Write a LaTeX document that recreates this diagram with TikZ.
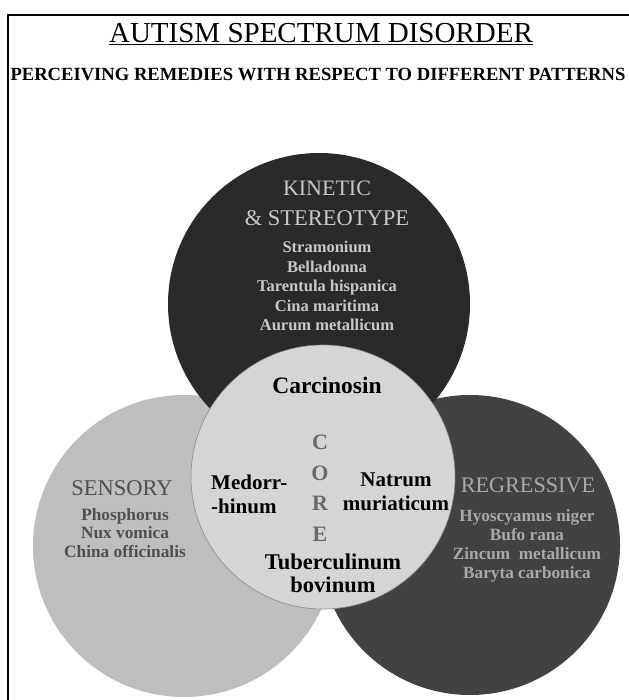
\documentclass[tikz,border=0pt]{standalone}
\usepackage{fontspec}
\setmainfont{Liberation Serif}
\usetikzlibrary{positioning}
\definecolor{kinfill}{HTML}{2A2A2A}
\definecolor{regfill}{HTML}{424242}
\definecolor{senfill}{HTML}{BEBEBE}
\definecolor{corefill}{HTML}{D5D5D5}
\definecolor{kintext}{HTML}{C8C8C8}
\definecolor{regtext}{HTML}{A8A8A8}
\definecolor{sentext}{HTML}{505050}
\definecolor{coreletter}{HTML}{6A6A6A}

\begin{document}
\begin{tikzpicture}[x=1pt, y=-1pt,
    heading/.style={inner sep=0pt, font=\fontsize{22.5}{26}\selectfont},
    remedy/.style={inner sep=0pt, align=center, font=\bfseries\fontsize{16.5}{19.5}\selectfont},
    corename/.style={inner sep=0pt, font=\bfseries\fontsize{21}{24}\selectfont}]

    \useasboundingbox (0,0) rectangle (628,700);
    \fill[white] (0,0) rectangle (628,700);

    % frame, cut off at the right and at the bottom
    \draw[line width=1.6pt] (8,720) -- (8,15) -- (650,15);

    \node[inner sep=0pt, font=\fontsize{29}{32}\selectfont] (title) at (321,34)
        {\underline{AUTISM SPECTRUM DISORDER}};
    \node[inner sep=0pt, font=\bfseries\fontsize{18.6}{20}\selectfont] (subtitle) at (318,74)
        {PERCEIVING REMEDIES WITH RESPECT TO DIFFERENT PATTERNS};

    % the four circles
    \fill[regfill] (470,545) circle (150);
    \fill[senfill] (184,546) circle (151);
    \fill[kinfill] (319,304) circle (151);
    \fill[corefill, draw=black!45, line width=0.6pt] (323,477) circle (132);

    % kinetic and stereotype
    \node[heading, text=kintext, font=\fontsize{22}{26}\selectfont] (kinetic) at (327,188) {KINETIC};
    \node[heading, text=kintext] (stereo) at (327,218) {\&~STEREOTYPE};
    \node[remedy, text=kintext] (kinlist) at (327,286)
        {Stramonium\\Belladonna\\Tarentula hispanica\\Cina maritima\\Aurum metallicum};

    % sensory
    \node[heading, text=sentext] (sensory) at (122,488) {SENSORY};
    \node[remedy, text=sentext, font=\bfseries\fontsize{17.3}{18.5}\selectfont] (senlist) at (125,533)
        {Phosphorus\\Nux vomica\\China officinalis};

    % regressive
    \node[heading, text=regtext, font=\fontsize{22.2}{26}\selectfont] (regressive) at (528,485) {REGRESSIVE};
    \node[remedy, text=regtext, font=\bfseries\fontsize{17.2}{19}\selectfont] (reglist) at (527,545.5)
        {Hyoscyamus niger\\Bufo rana\\Zincum\ \ metallicum\\Baryta carbonica};

    % core
    \node[corename, font=\bfseries\fontsize{23.5}{26}\selectfont] (carcinosin) at (327,385) {Carcinosin};
    \node[inner sep=0pt, align=center, text=coreletter, font=\bfseries\fontsize{22}{30.5}\selectfont]
        (core) at (320,488) {C\\O\\R\\E};
    \node[corename, align=left, anchor=west] (medorr) at (211,494) {Medorr-\\-hinum};
    \node[corename, align=center] (natrum) at (396,492) {Natrum\\muriaticum};
    \node[corename, align=center, font=\bfseries\fontsize{22.5}{23}\selectfont] (tuber) at (333,573.5)
        {Tuberculinum\\bovinum};

\end{tikzpicture}
\end{document}
